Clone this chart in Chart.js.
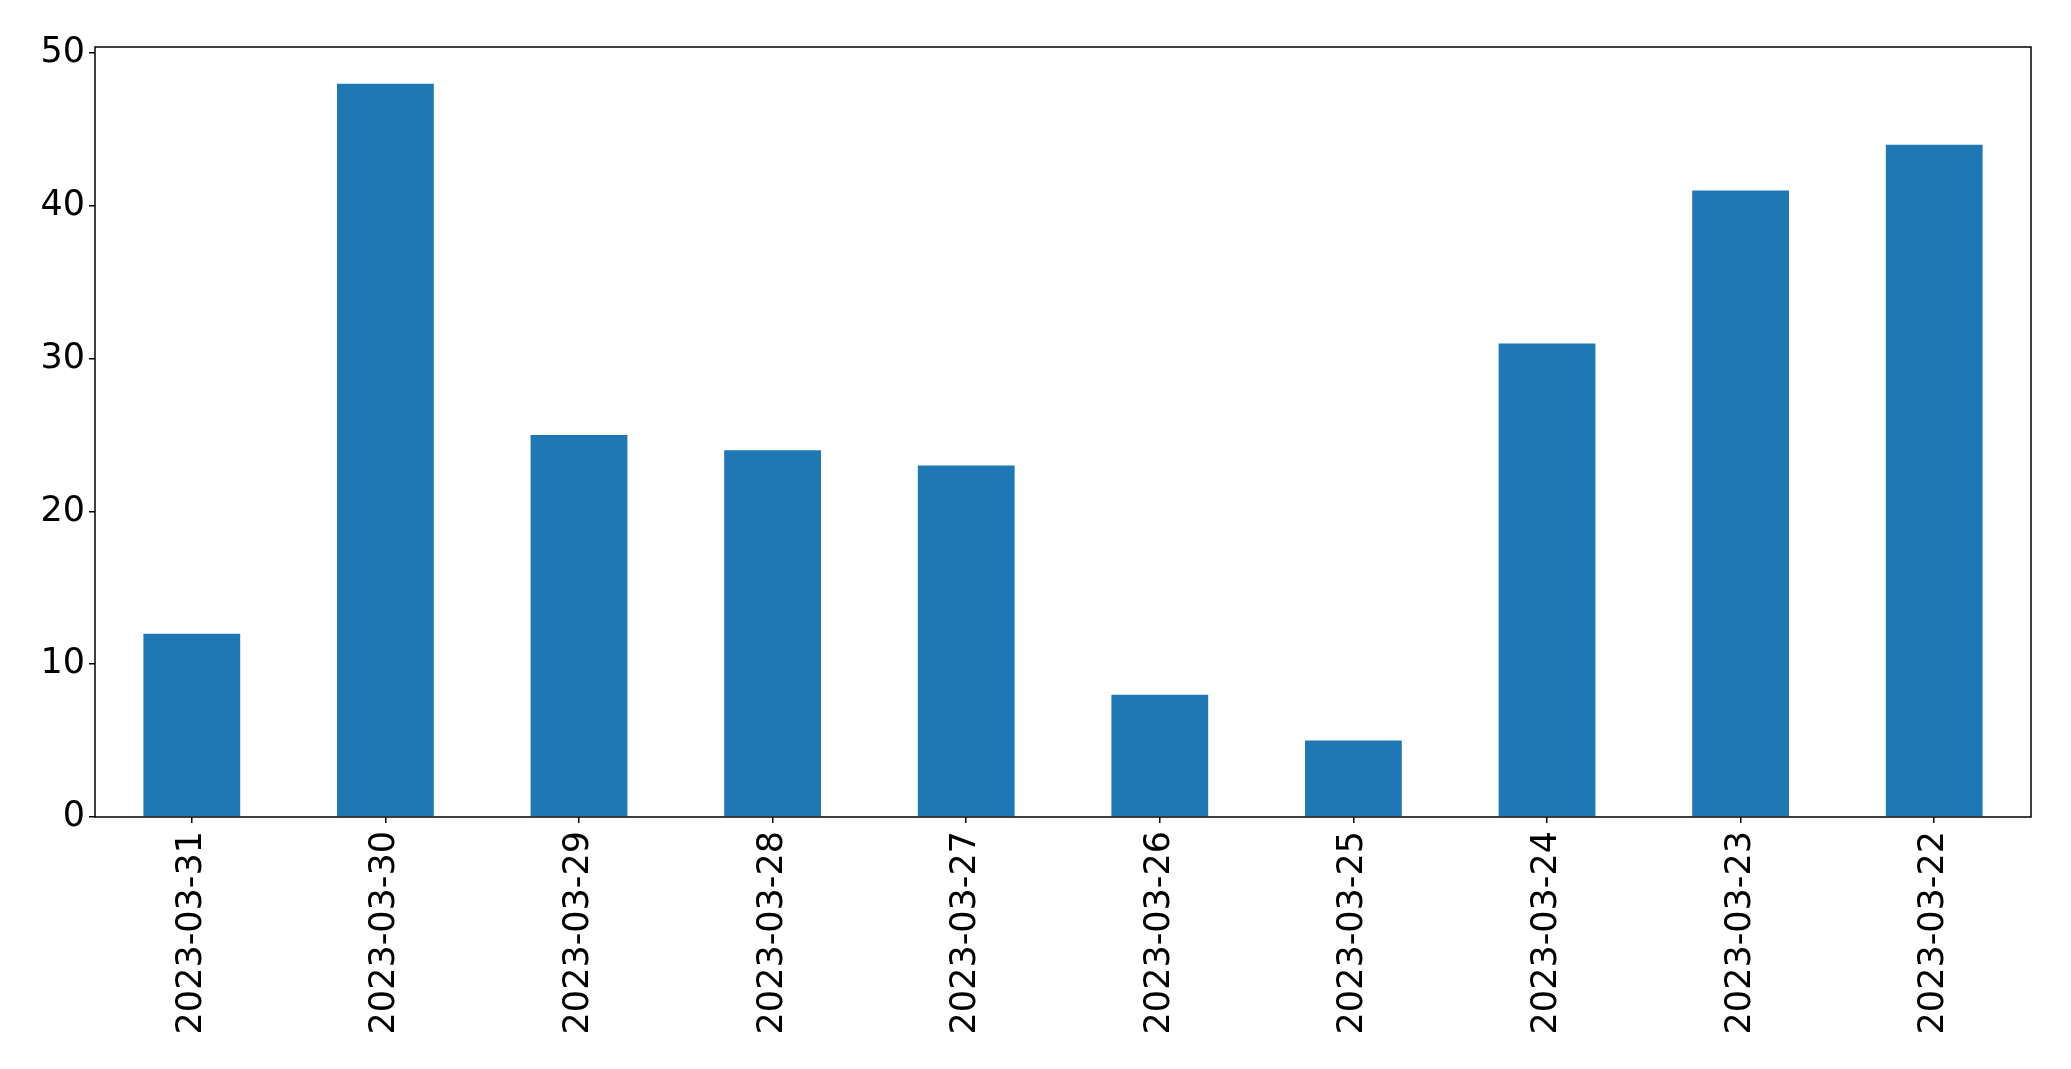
<!DOCTYPE html>
<html>
<head>
<meta charset="utf-8">
<script src="https://cdn.jsdelivr.net/npm/chart.js@4/dist/chart.umd.min.js"></script>
<style>
  html, body { margin: 0; padding: 0; background: #fff; }
  #wrap { width: 2071px; height: 1069px; }
</style>
</head>
<body>
<div id="wrap"><canvas id="barChart" width="2071" height="1069"></canvas></div>
<script>
// ===== DATA =====
const dates = ["2023-03-31", "2023-03-30", "2023-03-29", "2023-03-28", "2023-03-27",
               "2023-03-26", "2023-03-25", "2023-03-24", "2023-03-23", "2023-03-22"];
const counts = [12, 48, 25, 24, 23, 8, 5, 31, 41, 44];
const yTicks = [0, 10, 20, 30, 40, 50];

const FONT = "'DejaVu Sans', sans-serif";

// draws the full box around the plot (matplotlib spines)
const frame = {
  id: "frame",
  afterDraw(chart) {
    const { ctx, chartArea: a } = chart;
    ctx.save();
    ctx.strokeStyle = "#000";
    ctx.lineWidth = 1.5;
    ctx.strokeRect(a.left, a.top, a.right - a.left, a.bottom - a.top);
    ctx.restore();
  }
};

new Chart(document.getElementById("barChart"), {
  type: "bar",
  data: {
    labels: dates,
    datasets: [{
      data: counts,
      backgroundColor: "#1f77b4",
      borderWidth: 0,
      barPercentage: 0.5,
      categoryPercentage: 1.0
    }]
  },
  options: {
    responsive: false,
    animation: false,
    devicePixelRatio: 1,
    layout: { padding: { top: 47, right: 40, left: 0, bottom: 0 } },
    plugins: { legend: { display: false }, tooltip: { enabled: false } },
    scales: {
      x: {
        offset: true,
        grid: { display: true, offset: false, drawOnChartArea: false, drawTicks: true, tickLength: 6, color: "#000", lineWidth: 1.5 },
        border: { display: false },
        ticks: {
          color: "#000",
          font: { family: FONT, size: 35 },
          minRotation: 90,
          maxRotation: 90,
          padding: 8,
          autoSkip: false
        },
        afterFit(scale) { scale.height = 1069 - 817; }
      },
      y: {
        min: 0,
        max: 50.4,
        grid: { display: true, drawOnChartArea: false, drawTicks: true, tickLength: 6, color: "#000", lineWidth: 1.5 },
        border: { display: false },
        ticks: {
          color: "#000",
          font: { family: FONT, size: 35 },
          stepSize: 10,
          includeBounds: false,
          padding: 4
        },
        afterBuildTicks(scale) { scale.ticks = yTicks.map(v => ({ value: v })); },
        afterFit(scale) { scale.width = 95; }
      }
    }
  },
  plugins: [frame]
});
</script>
</body>
</html>
